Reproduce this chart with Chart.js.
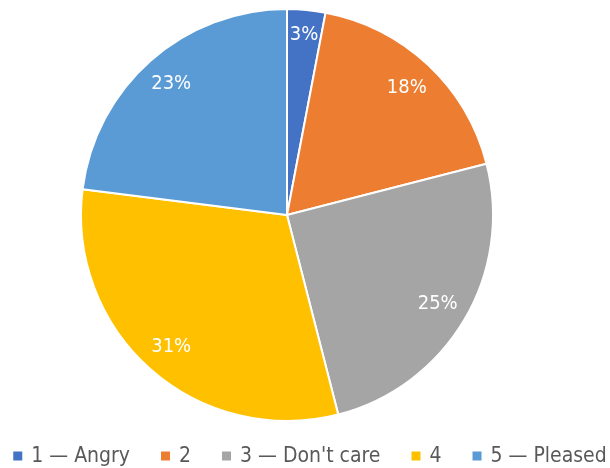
<!DOCTYPE html>
<html>
<head>
<meta charset="utf-8">
<script src="https://cdn.jsdelivr.net/npm/chart.js@4"></script>
<style>
  html, body { margin: 0; padding: 0; background: #fff; }
  #wrap { width: 610px; height: 468px; position: relative; }
</style>
</head>
<body>
<div id="wrap"><canvas id="chart"></canvas></div>
<script>
const categories = ['1 \u2014 Angry', '2', '3 \u2014 Don\'t care', '4', '5 \u2014 Pleased'];
const shares = [3, 18, 25, 31, 23];
const colors = ['#4472C4', '#ED7D31', '#A5A5A5', '#FFC000', '#5B9BD5'];
const FONT = '"DejaVu Sans Condensed", "DejaVu Sans", sans-serif';

// percentage labels inside the slices
const pctLabels = {
  id: 'pctLabels',
  afterDatasetsDraw(chart) {
    const ctx = chart.ctx;
    const meta = chart.getDatasetMeta(0);
    ctx.save();
    ctx.fillStyle = '#fff';
    ctx.font = '20px ' + FONT;
    ctx.textAlign = 'center';
    ctx.textBaseline = 'middle';
    meta.data.forEach((arc, i) => {
      const mid = (arc.startAngle + arc.endAngle) / 2;
      const f = shares[i] < 5 ? 0.88 : 0.85;
      const r = arc.outerRadius * f;
      ctx.fillText(shares[i] + '%', arc.x + Math.cos(mid) * r, arc.y + Math.sin(mid) * r);
    });
    ctx.restore();
  }
};

// one-line legend under the pie, like the office chart
const bottomLegend = {
  id: 'bottomLegend',
  afterDraw(chart) {
    const ctx = chart.ctx;
    const labels = chart.data.labels;
    const bg = chart.data.datasets[0].backgroundColor;
    const box = 9, gapBox = 9, gapItem = 31;
    ctx.save();
    ctx.font = '21px ' + FONT;
    const widths = labels.map(l => ctx.measureText(l).width);
    const total = widths.reduce((a, w) => a + box + gapBox + w, 0) + gapItem * (labels.length - 1);
    let x = 310 - total / 2;
    const y = 456;
    ctx.textBaseline = 'middle';
    labels.forEach((l, i) => {
      ctx.fillStyle = bg[i];
      ctx.fillRect(x, y - box / 2, box, box);
      x += box + gapBox;
      ctx.fillStyle = '#595959';
      ctx.fillText(l, x, y + 1);
      x += widths[i] + gapItem;
    });
    ctx.restore();
  }
};

new Chart(document.getElementById('chart'), {
  type: 'pie',
  data: {
    labels: categories,
    datasets: [{
      data: shares,
      backgroundColor: colors,
      borderColor: '#fff',
      borderWidth: 2
    }]
  },
  options: {
    responsive: true,
    maintainAspectRatio: false,
    animation: false,
    layout: { padding: { top: 8, right: 36, left: 0, bottom: 46 } },
    plugins: {
      tooltip: { enabled: false },
      legend: { display: false }
    }
  },
  plugins: [pctLabels, bottomLegend]
});
</script>
</body>
</html>
